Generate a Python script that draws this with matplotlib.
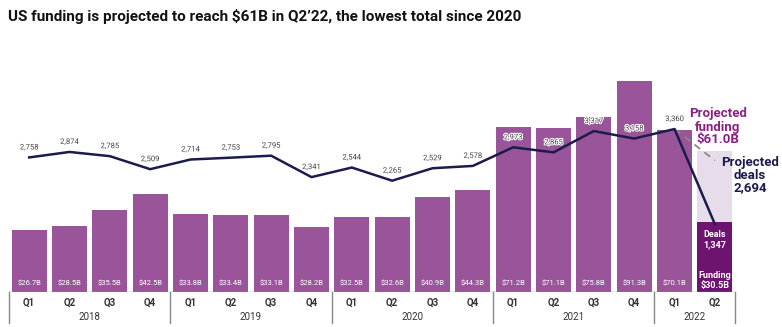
import matplotlib
matplotlib.use("Agg")
import matplotlib.pyplot as plt
import matplotlib.patheffects as pe
from matplotlib.transforms import blended_transform_factory

quarters = ["Q1", "Q2", "Q3", "Q4"] * 4 + ["Q1", "Q2"]
years = ["2018", "2019", "2020", "2021", "2022"]
funding = [26.7, 28.5, 35.5, 42.5, 33.8, 33.4, 33.1, 28.2, 32.5, 32.6,
           40.9, 44.3, 71.2, 71.1, 75.8, 91.3, 70.1]
funding_q2_22 = 30.5
projected_funding = 61.0
deals = [2758, 2874, 2785, 2509, 2714, 2753, 2795, 2341, 2544, 2265,
         2529, 2578, 2973, 2865, 3317, 3158, 3360, 1347]
projected_deals = 2694

BAR = "#9A559A"
DARK = "#6C1470"
LIGHT = "#E7DCEA"
NAVY = "#1B1C4C"
TXT = "#333333"
FONT = ["Roboto", "DejaVu Sans"]
plt.rcParams["font.family"] = FONT

W, H = 782, 327
fig = plt.figure(figsize=(W / 100, H / 100), dpi=100)
ax = fig.add_axes([9 / W, 1 - 292 / H, 726 / W, 242 / H])
ax2 = ax.twinx()
ax2.set_position(ax.get_position())

n = len(deals)
xs = list(range(n))
bw = 0.87
ax.bar(xs[:-1], funding, width=bw, color=BAR, zorder=2)
ax.bar(xs[-1], projected_funding, width=bw, color=LIGHT, zorder=2)
ax.bar(xs[-1], funding_q2_22, width=bw, color=DARK, zorder=3)
ax.set_xlim(-0.5, n - 0.5)
ax.set_ylim(0, 104.7)
ax.axhline(0, color="#888888", lw=1, zorder=4)

for i, v in enumerate(funding):
    ax.text(i, 2.5, f"${v}B", ha="center", va="bottom", color="white",
            fontsize=5.5, zorder=5)

ax2.plot(xs, deals, color=NAVY, lw=1.8, zorder=6)
ax2.plot([xs[-2], xs[-1]], [deals[-2], projected_deals], color="#888888",
         lw=1.3, ls=(0, (4, 3)), zorder=5)
ax2.set_ylim(-93, 5034)
for i, v in enumerate(deals[:-1]):
    ax2.annotate(f"{v:,}", (i, v), xytext=(0, 7.2), textcoords="offset points",
                 ha="center", va="center", fontsize=5.5, color="#444444",
                 path_effects=[pe.withStroke(linewidth=1.5, foreground="white")],
                 zorder=7)

for a in (ax, ax2):
    for s in a.spines.values():
        s.set_visible(False)
    a.set_yticks([])
    a.set_xticks([])

# category labels
tr = blended_transform_factory(ax.transData, ax.transAxes)
for i, q in enumerate(quarters):
    ax.text(i, -11 / 242, q, transform=tr, ha="center", va="center",
            fontsize=7, fontweight="bold", color=TXT)
groups = [(0, 3), (4, 7), (8, 11), (12, 15), (16, 17)]
for (a0, a1), y in zip(groups, years):
    ax.text((a0 + a1) / 2, -25 / 242, y, transform=tr, ha="center",
            va="center", fontsize=7, color=TXT)
for b in [-0.5, 3.5, 7.5, 11.5, 15.5, 17.5]:
    ax.plot([b, b], [0, -31 / 242], transform=tr, color="#888888", lw=1,
            clip_on=False)

# annotations
ax.text(xs[-1], 22.5, "Deals\n1,347", ha="center", va="center", color="white",
        fontsize=6.5, fontweight="bold", zorder=6, linespacing=1.15)
ax.text(xs[-1], 4.8, "Funding\n$30.5B", ha="center", va="center",
        color="white", fontsize=6.5, fontweight="bold", zorder=6, linespacing=1.15)
fig.text(718 / W, 1 - 127 / H, "Projected\nfunding\n$61.0B", ha="center",
         va="center", color="#8A1F86", fontsize=9.5, fontweight="bold",
         linespacing=1.0)
fig.text(750 / W, 1 - 175 / H, "Projected\ndeals\n2,694", ha="center",
         va="center", color=NAVY, fontsize=9.5, fontweight="bold",
         linespacing=1.0)

fig.text(8 / W, 1 - 16 / H,
         "US funding is projected to reach $61B in Q2\u201922, the lowest total since 2020",
         ha="left", va="center", fontsize=11, fontweight="bold", color="#111111",
         family=["Roboto", "DejaVu Sans"])

fig.savefig("out.png", dpi=100)
